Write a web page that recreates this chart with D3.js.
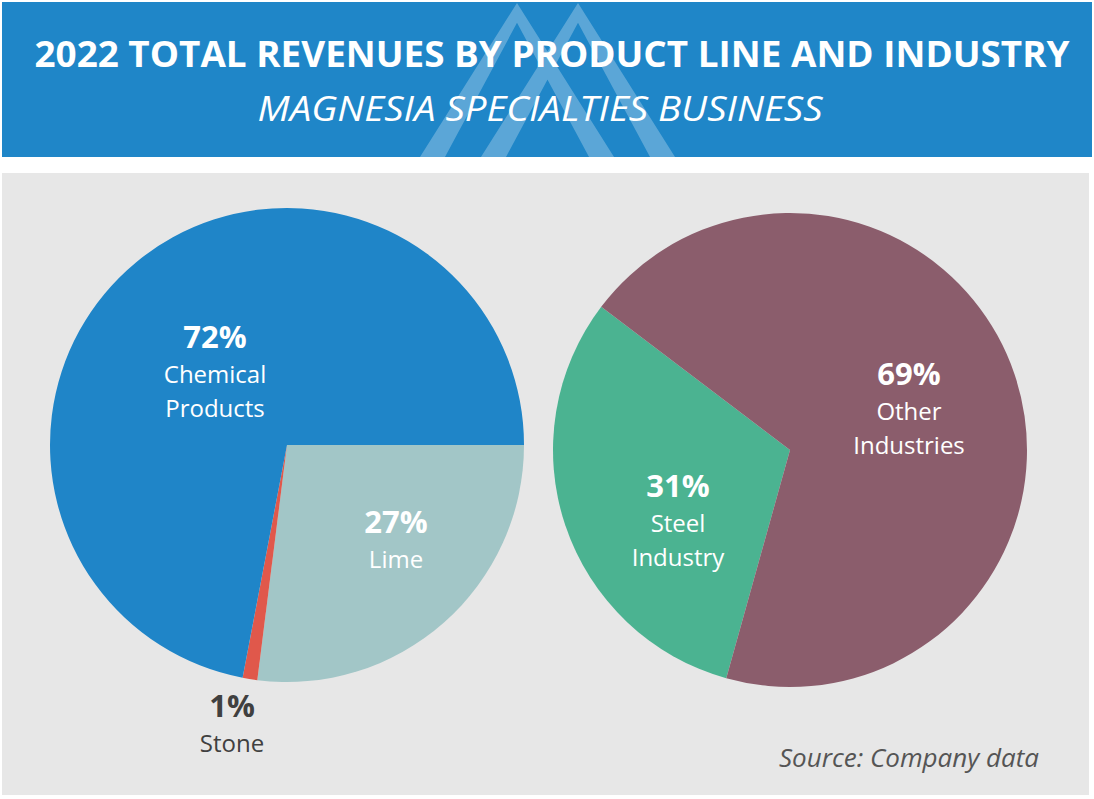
<!DOCTYPE html>
<html>
<head>
<meta charset="utf-8">
<script src="https://cdn.jsdelivr.net/npm/d3@7"></script>
<style>
  html, body { margin: 0; padding: 0; background: #ffffff; }
  svg { display: block; }
  text { font-family: "Open Sans", "Noto Sans", sans-serif; }
</style>
</head>
<body>
<svg id="chart" width="1094" height="799"></svg>
<script>
// ---- DATA ----
const titleText = "2022 TOTAL REVENUES BY PRODUCT LINE AND INDUSTRY";
const subtitleText = "MAGNESIA SPECIALTIES BUSINESS";
const sourceText = "Source: Company data";

const productLines = ["Lime", "Stone", "Chemical Products"];
const productValues = [27, 1, 72];
const productLabelLines = [["Lime"], ["Stone"], ["Chemical", "Products"]];

const industries = ["Steel Industry", "Other Industries"];
const industryValues = [31, 69];
const industryLabelLines = [["Steel", "Industry"], ["Other", "Industries"]];

// ---- STYLE / LAYOUT ----
const productColors = ["#a2c6c7", "#e0584b", "#1f85c8"];
const industryColors = ["#4bb391", "#8b5d6c"];
const productLabelColors = ["#ffffff", "#404040", "#ffffff"];
const industryLabelColors = ["#ffffff", "#ffffff"];
// label anchors relative to each pie centre (dx, dy of the percentage baseline)
const productLabelOffsets = [[109, 88], [-55, 272], [-72, -97]];
const industryLabelOffsets = [[-112, 47], [119, -65]];

const svg = d3.select("#chart");

// header
svg.append("rect").attr("x", 2).attr("y", 2).attr("width", 1090).attr("height", 155).attr("fill", "#1f86c8");

// logo (two overlapping chevrons drawn as a single union path)
function chevron(a, top, bottom, slope, thick) {
  const h = bottom - top;
  const innerTop = top + thick / (2 * slope);
  return `M${a},${top} L${a + slope * h},${bottom} L${a + slope * h - thick},${bottom} L${a},${innerTop} L${a - slope * h + thick},${bottom} L${a - slope * h},${bottom} Z`;
}
svg.append("path")
  .attr("d", chevron(517, 3, 157, 0.63, 25) + " " + chevron(578, 3, 157, 0.63, 25))
  .attr("fill", "#ffffff").attr("fill-opacity", 0.27).attr("fill-rule", "nonzero");

svg.append("text")
  .attr("x", 552).attr("y", 67)
  .attr("text-anchor", "middle")
  .attr("font-size", 36).attr("font-weight", 700).attr("fill", "#ffffff")
  .attr("textLength", 1035).attr("lengthAdjust", "spacingAndGlyphs")
  .text(titleText);

svg.append("text")
  .attr("x", 540).attr("y", 121)
  .attr("text-anchor", "middle")
  .attr("font-size", 34).attr("font-style", "italic").attr("fill", "#ffffff")
  .attr("textLength", 565).attr("lengthAdjust", "spacingAndGlyphs")
  .text(subtitleText);

// grey panel
svg.append("rect").attr("x", 2).attr("y", 173).attr("width", 1087).attr("height", 622).attr("fill", "#e7e7e7");

function drawPie(cx, cy, r, names, values, colors, startDeg, labelLines, labelColors, labelOffsets) {
  const pie = d3.pie().sort(null).value(d => d.value)
    .startAngle(startDeg * Math.PI / 180)
    .endAngle(startDeg * Math.PI / 180 + 2 * Math.PI);
  const data = names.map((n, i) => ({ name: n, value: values[i], i }));
  const arc = d3.arc().innerRadius(0).outerRadius(r);
  const g = svg.append("g").attr("transform", `translate(${cx},${cy})`);
  g.selectAll("path").data(pie(data)).join("path")
    .attr("d", arc)
    .attr("fill", d => colors[d.data.i]);

  const lg = g.selectAll("g.lab").data(data).join("g").attr("class", "lab")
    .attr("transform", d => `translate(${labelOffsets[d.i][0]},${labelOffsets[d.i][1]})`);
  lg.append("text")
    .attr("text-anchor", "middle")
    .attr("font-size", 31).attr("font-weight", 700)
    .attr("fill", d => labelColors[d.i])
    .text(d => d3.format(".0f")(d.value) + "%");
  lg.each(function(d) {
    const sel = d3.select(this);
    labelLines[d.i].forEach((line, k) => {
      sel.append("text")
        .attr("text-anchor", "middle")
        .attr("y", 34.5 * (k + 1))
        .attr("font-size", 24)
        .attr("fill", labelColors[d.i])
        .text(line);
    });
  });
}

drawPie(287, 445, 237, productLines, productValues, productColors, 90, productLabelLines, productLabelColors, productLabelOffsets);
drawPie(790, 450, 237, industries, industryValues, industryColors, 195.6, industryLabelLines, industryLabelColors, industryLabelOffsets);

svg.append("text")
  .attr("x", 1039).attr("y", 767)
  .attr("text-anchor", "end")
  .attr("font-size", 25).attr("font-style", "italic").attr("fill", "#555555")
  .attr("textLength", 260).attr("lengthAdjust", "spacingAndGlyphs")
  .text(sourceText);
</script>
</body>
</html>
